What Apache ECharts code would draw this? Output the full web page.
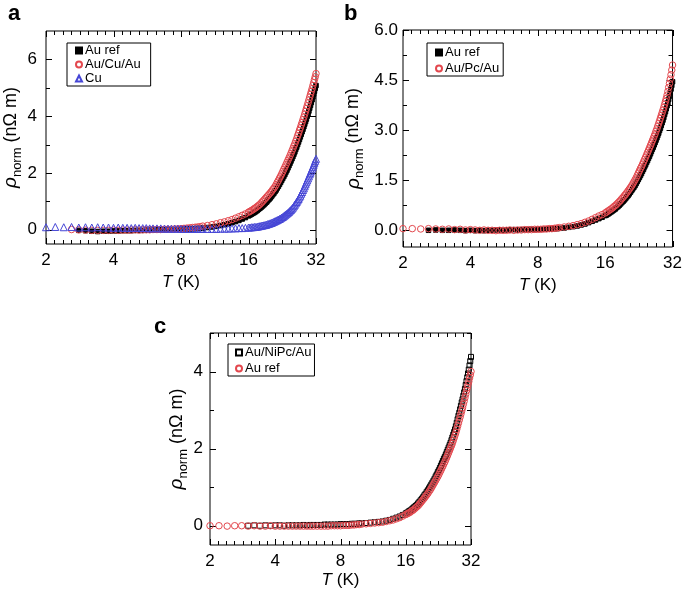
<!DOCTYPE html>
<html><head><meta charset="utf-8">
<script src="https://cdn.jsdelivr.net/npm/echarts@6/dist/echarts.min.js"></script>
<style>html,body{margin:0;padding:0;background:#fff}#c{width:685px;height:590px}</style>
</head><body><div id="c"></div>
<script>
// Temperatures (K), shared by all panels
const T = [2.0,2.2,2.4,2.6,2.8,3.0,3.2,3.4,3.6,3.8,4.0,4.2,4.4,4.6,4.8,5.0,5.2,5.4,5.6,5.8,
  6.0,6.25,6.5,6.75,7.0,7.25,7.5,7.75,8.0,8.25,8.5,8.75,9.0,9.25,9.5,9.75,
  10,10.5,11,11.5,12,12.5,13,13.5,14,14.5,15,15.5,
  16,16.25,16.5,16.75,17,17.25,17.5,17.75,18,18.25,18.5,18.75,19,19.25,19.5,19.75,20,20.25,20.5,20.75,
  21,21.25,21.5,21.75,22,22.25,22.5,22.75,23,23.25,23.5,23.75,24,24.25,24.5,24.75,25,25.25,25.5,25.75,
  26,26.25,26.5,26.75,27,27.25,27.5,27.75,28,28.25,28.5,28.75,29,29.25,29.5,29.75,30,30.25,30.5,30.75,
  31,31.25,31.5,31.75,32];

// Panel a
const aAuRef = [null,null,null,null,-0.02,-0.03,-0.05,-0.06,-0.05,-0.05,-0.04,-0.04,-0.03,-0.03,-0.03,-0.02,-0.02,-0.02,-0.01,-0.01,
  -0.01,0.0,0.0,0.0,0.01,0.01,0.01,0.02,0.02,0.02,0.03,0.03,0.04,0.04,0.05,0.05,
  0.06,0.08,0.1,0.12,0.15,0.18,0.21,0.25,0.29,0.33,0.38,0.43,
  0.49,0.52,0.55,0.58,0.61,0.64,0.68,0.72,0.76,0.8,0.84,0.88,0.93,0.97,1.02,1.07,1.12,1.17,1.23,1.28,
  1.34,1.4,1.47,1.53,1.6,1.67,1.74,1.81,1.88,1.95,2.03,2.1,2.18,2.26,2.34,2.42,2.5,2.58,2.66,2.74,
  2.83,2.91,3.0,3.09,3.18,3.27,3.36,3.45,3.54,3.63,3.72,3.81,3.9,4.0,4.09,4.18,4.28,4.38,4.48,4.58,
  4.68,4.78,4.88,4.98,5.08];
const aAuCuAu = [null,null,null,0.01,0.0,-0.01,-0.02,-0.02,-0.02,-0.02,-0.01,-0.02,-0.01,-0.01,-0.01,0.0,-0.01,0.0,0.0,0.0,
  0.01,0.01,0.01,0.02,0.02,0.02,0.03,0.03,0.04,0.05,0.06,0.07,0.08,0.09,0.1,0.11,
  0.13,0.15,0.18,0.21,0.25,0.28,0.32,0.36,0.41,0.46,0.51,0.56,
  0.62,0.65,0.68,0.71,0.75,0.78,0.82,0.86,0.9,0.95,1.0,1.05,1.1,1.15,1.2,1.25,1.3,1.35,1.41,1.46,
  1.52,1.59,1.67,1.74,1.82,1.89,1.97,2.05,2.13,2.21,2.29,2.37,2.45,2.53,2.61,2.69,2.78,2.86,2.95,3.03,
  3.12,3.21,3.31,3.4,3.5,3.59,3.69,3.78,3.88,3.97,4.07,4.17,4.27,4.37,4.47,4.57,4.67,4.77,4.87,4.97,
  5.08,5.18,5.29,5.39,5.5];
const aCu = [0.09,0.1,0.09,0.1,0.08,0.09,0.08,0.09,0.08,0.08,0.07,0.08,0.07,0.07,0.06,0.07,0.06,0.06,0.06,0.05,
  0.05,0.05,0.05,0.04,0.04,0.04,0.04,0.04,0.03,0.03,0.03,0.03,0.03,0.03,0.03,0.03,
  0.03,0.03,0.03,0.03,0.04,0.04,0.04,0.05,0.05,0.06,0.06,0.07,
  0.08,0.08,0.09,0.09,0.1,0.1,0.11,0.12,0.13,0.14,0.15,0.16,0.17,0.18,0.2,0.21,0.23,0.24,0.26,0.28,
  0.3,0.32,0.34,0.36,0.38,0.4,0.43,0.45,0.48,0.51,0.54,0.57,0.6,0.63,0.67,0.7,0.74,0.78,0.83,0.88,
  0.93,0.98,1.03,1.08,1.14,1.2,1.27,1.33,1.4,1.46,1.53,1.6,1.67,1.74,1.81,1.88,1.95,2.01,2.08,2.15,
  2.22,2.29,2.36,2.43,2.5];

// Panel b
const bAuRef = [null,null,null,0.0,0.01,0.0,0.0,0.01,0.0,-0.01,0.0,-0.01,0.0,-0.01,0.0,0.0,0.01,0.01,0.0,0.01,
  0.01,0.02,0.01,0.02,0.02,0.02,0.03,0.02,0.03,0.03,0.03,0.04,0.04,0.04,0.05,0.05,
  0.06,0.07,0.09,0.11,0.13,0.16,0.19,0.23,0.27,0.31,0.35,0.39,
  0.44,0.46,0.49,0.52,0.55,0.58,0.61,0.64,0.68,0.71,0.75,0.79,0.83,0.87,0.91,0.95,1.0,1.04,1.09,1.14,
  1.19,1.24,1.29,1.34,1.4,1.46,1.52,1.58,1.64,1.7,1.77,1.83,1.9,1.96,2.03,2.09,2.16,2.22,2.29,2.36,
  2.43,2.49,2.56,2.63,2.7,2.77,2.84,2.91,2.99,3.06,3.14,3.22,3.3,3.38,3.47,3.55,3.64,3.73,3.82,3.92,
  4.02,4.12,4.23,4.34,4.45];
const bAuPcAu = [0.05,0.05,0.04,0.05,0.04,0.03,0.04,0.02,0.03,0.01,0.02,0.01,0.0,0.01,0.0,0.0,-0.01,0.0,0.0,0.0,
  0.01,0.0,0.01,0.01,0.02,0.02,0.02,0.03,0.03,0.03,0.04,0.04,0.05,0.05,0.06,0.07,
  0.08,0.1,0.12,0.14,0.17,0.2,0.24,0.28,0.33,0.38,0.43,0.47,
  0.52,0.55,0.58,0.61,0.64,0.67,0.71,0.74,0.78,0.82,0.86,0.9,0.95,0.99,1.04,1.08,1.13,1.18,1.23,1.28,
  1.33,1.39,1.45,1.51,1.57,1.64,1.71,1.78,1.85,1.91,1.98,2.05,2.12,2.19,2.26,2.33,2.4,2.47,2.54,2.61,
  2.68,2.75,2.82,2.89,2.97,3.04,3.12,3.2,3.28,3.36,3.44,3.52,3.6,3.68,3.77,3.86,3.95,4.05,4.16,4.28,
  4.4,4.53,4.66,4.8,4.95];

// Panel c
const cAuNiPcAu = [null,null,null,null,null,0.0,0.01,0.0,0.01,0.0,0.01,0.01,0.0,0.01,0.01,0.01,0.01,0.02,0.01,0.02,
  0.02,0.02,0.02,0.03,0.03,0.03,0.03,0.03,0.04,0.04,0.04,0.04,0.05,0.05,0.05,0.06,
  0.06,0.07,0.08,0.09,0.1,0.11,0.13,0.15,0.18,0.21,0.24,0.28,
  0.32,0.34,0.37,0.39,0.42,0.45,0.48,0.51,0.54,0.58,0.62,0.66,0.7,0.74,0.79,0.83,0.88,0.92,0.97,1.02,
  1.07,1.12,1.17,1.22,1.28,1.33,1.39,1.44,1.5,1.56,1.62,1.68,1.74,1.79,1.85,1.91,1.97,2.03,2.09,2.15,
  2.22,2.29,2.36,2.43,2.5,2.58,2.67,2.76,2.85,2.93,3.02,3.11,3.2,3.28,3.37,3.46,3.55,3.65,3.75,3.85,
  3.95,4.05,4.16,4.27,4.38];
const cAuRef = [0.0,0.0,-0.01,0.0,0.0,-0.01,0.0,-0.01,-0.01,0.0,-0.01,-0.01,-0.01,-0.01,-0.01,-0.01,-0.01,-0.01,-0.01,-0.01,
  -0.01,-0.01,-0.01,-0.01,-0.01,0.0,0.0,0.0,0.0,0.01,0.01,0.01,0.02,0.02,0.03,0.03,
  0.04,0.05,0.06,0.07,0.08,0.09,0.11,0.13,0.15,0.18,0.21,0.25,
  0.29,0.31,0.33,0.35,0.38,0.4,0.43,0.46,0.49,0.52,0.56,0.6,0.64,0.68,0.72,0.76,0.8,0.84,0.89,0.93,
  0.98,1.03,1.08,1.13,1.18,1.23,1.28,1.33,1.39,1.44,1.5,1.55,1.61,1.66,1.72,1.78,1.84,1.9,1.96,2.02,
  2.08,2.14,2.21,2.28,2.35,2.42,2.5,2.58,2.66,2.74,2.82,2.9,2.98,3.06,3.15,3.23,3.32,3.41,3.5,3.58,
  3.66,3.74,3.83,3.91,4.0];

// Tick labels / tick positions
const xTickLabels = [2,4,8,16,32];
const aYTicks = [0,2,4,6], aYMinor = [1,3,5];
const bYTicks = [0,1.5,3,4.5,6], bYMinor = [0.75,2.25,3.75,5.25];
const cYTicks = [0,2,4], cYMinor = [1,3,5];
// minor x ticks: eighth-octave steps between the labelled octaves
const xMinorT = [];
for (let k=1;k<5;k++) for (let j=1;j<8;j++) xMinorT.push(Math.pow(2, k + j/8));

const FONT = 'Liberation Sans, Arial, Helvetica, sans-serif';
const RED = '#e3484e', BLUE = '#4646d6';
const MAJ = 6, MIN = 4;

function pts(vals){ return T.map((t,i)=>[t, vals[i]]).filter(p=>p[1]!==null && p[1]!==undefined); }

const panels = [
  {grid:{left:46,top:31,width:270,height:213}, ymin:-0.5, ymax:7, ticks:aYTicks, minor:aYMinor, dec:0, yGap:21, xGap:30, lblMargin:9},
  {grid:{left:403,top:30,width:271,height:217}, ymin:-0.5, ymax:6, ticks:bYTicks, minor:bYMinor, dec:1, yGap:37, xGap:30, lblMargin:5},
  {grid:{left:210,top:333,width:261,height:212}, ymin:-0.5, ymax:5, ticks:cYTicks, minor:cYMinor, dec:0, yGap:12, xGap:27, lblMargin:7}
];

const grids = [], xAxes = [], yAxes = [], tickSeries = [];
panels.forEach((p,g)=>{
  grids.push(Object.assign({show:true, borderColor:'#000', borderWidth:1}, p.grid));
  xAxes.push({gridIndex:g, type:'log', logBase:2, min:2, max:32, position:'bottom',
    axisLine:{show:false, onZero:false}, axisTick:{show:false}, splitLine:{show:false}, minorTick:{show:false},
    axisLabel:{color:'#000', fontSize:17, fontFamily:FONT, margin:8},
    name:'{i|T} (K)', nameLocation:'middle', nameGap:p.xGap,
    nameTextStyle:{color:'#000', fontSize:17, fontFamily:FONT, rich:{i:{fontStyle:'italic', fontSize:17, fontFamily:FONT, color:'#000'}}}});
  yAxes.push({gridIndex:g, type:'value', min:p.ymin, max:p.ymax, position:'left',
    axisLine:{show:false, onZero:false}, splitLine:{show:false}, axisTick:{show:false},
    axisLabel:{color:'#000', fontSize:17, fontFamily:FONT, margin:p.lblMargin, customValues:p.ticks,
      formatter:v=>Number(v).toFixed(p.dec)},
    name:'{r|ρ}{s|norm} (nΩ m)', nameLocation:'middle', nameGap:p.yGap,
    nameTextStyle:{color:'#000', fontSize:18, fontFamily:FONT,
      rich:{r:{fontStyle:'italic', fontSize:19, fontFamily:FONT, color:'#000'},
            s:{fontSize:13, fontFamily:FONT, color:'#000', padding:[12,0,0,0]}}}});

  // Inward tick marks on all four frame edges, placed through the axes' own scales.
  // item: [T, y, length, kind]  kind 0 = x tick (bottom+top), 1 = y tick (left+right)
  const tickData = [];
  xTickLabels.forEach(t=>tickData.push([t, p.ymin, MAJ, 0]));
  xMinorT.forEach(t=>tickData.push([t, p.ymin, MIN, 0]));
  p.ticks.forEach(v=>tickData.push([2, v, MAJ, 1]));
  p.minor.forEach(v=>tickData.push([2, v, MIN, 1]));
  tickSeries.push({type:'custom', name:'ticks'+g, xAxisIndex:g, yAxisIndex:g, silent:true, clip:false,
    data:tickData, z:1,
    renderItem:(params, api)=>{
      const len = api.value(2), kind = api.value(3);
      const st = {stroke:'#000', lineWidth:1};
      const r = v=>Math.round(v)+0.5;
      if (kind === 0) {
        const b = api.coord([api.value(0), p.ymin]), t = api.coord([api.value(0), p.ymax]);
        const x = r(b[0]);
        return {type:'group', children:[
          {type:'line', shape:{x1:x, y1:b[1], x2:x, y2:b[1]-len}, style:st},
          {type:'line', shape:{x1:x, y1:t[1], x2:x, y2:t[1]+len}, style:st}]};
      }
      const l = api.coord([2, api.value(1)]), rr = api.coord([32, api.value(1)]);
      const y = r(l[1]);
      return {type:'group', children:[
        {type:'line', shape:{x1:l[0], y1:y, x2:l[0]+len, y2:y}, style:st},
        {type:'line', shape:{x1:rr[0], y1:y, x2:rr[0]-len, y2:y}, style:st}]};
    }});
});

function sc(name, g, vals, symbol, size, fill, stroke){
  return {name, type:'scatter', xAxisIndex:g, yAxisIndex:g, data:pts(vals),
    symbol, symbolSize:size, silent:true, z:2,
    itemStyle:{color:fill, borderColor:stroke, borderWidth:1, opacity:1}};
}
const NONE = 'rgba(0,0,0,0)';
const series = tickSeries.concat([
  sc('a:Au ref', 0, aAuRef, 'rect', 4.5, '#000', '#000'),
  sc('a:Au/Cu/Au', 0, aAuCuAu, 'circle', 6.5, NONE, RED),
  sc('a:Cu', 0, aCu, 'triangle', 7, NONE, BLUE),
  sc('b:Au ref', 1, bAuRef, 'rect', 4.5, '#000', '#000'),
  sc('b:Au/Pc/Au', 1, bAuPcAu, 'circle', 6.5, NONE, RED),
  sc('c:Au/NiPc/Au', 2, cAuNiPcAu, 'rect', 5, NONE, '#000'),
  sc('c:Au ref', 2, cAuRef, 'circle', 6.5, NONE, RED)
]);

function lg(names, left, top, gap, padding){
  return {data:names, orient:'vertical', left, top, itemGap:gap, itemWidth:6, itemHeight:6,
    padding, borderColor:'#000', borderWidth:1, selectedMode:false,
    formatter:n=>n.slice(2), textStyle:{color:'#000', fontSize:13, fontFamily:FONT, padding:[0,0,0,-2]}};
}

const option = {
  animation:false, backgroundColor:'#fff',
  title:[
    {text:'a', left:3, top:-2, textStyle:{fontSize:22, fontWeight:'bold', fontFamily:FONT, color:'#000'}},
    {text:'b', left:339, top:-2, textStyle:{fontSize:22, fontWeight:'bold', fontFamily:FONT, color:'#000'}},
    {text:'c', left:149, top:311, textStyle:{fontSize:22, fontWeight:'bold', fontFamily:FONT, color:'#000'}}
  ],
  legend:[
    lg(['a:Au ref','a:Au/Cu/Au','a:Cu'], 67, 43, 1, [1,10,1,8]),
    lg(['b:Au ref','b:Au/Pc/Au'], 427, 43, 3, [3,4,1,8]),
    lg(['c:Au/NiPc/Au','c:Au ref'], 228, 344, 3, [2,3,1,7])
  ],
  grid:grids, xAxis:xAxes, yAxis:yAxes, series
};
echarts.init(document.getElementById('c'), null, {renderer:'canvas'}).setOption(option);
</script></body></html>
